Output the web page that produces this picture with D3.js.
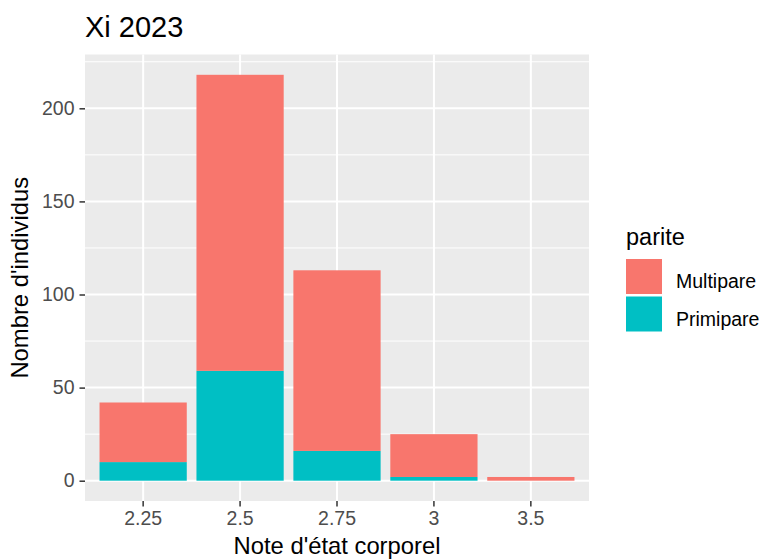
<!DOCTYPE html>
<html>
<head>
<meta charset="utf-8">
<script src="https://cdn.jsdelivr.net/npm/d3@7"></script>
<style>
  html, body { margin: 0; padding: 0; background: #ffffff; }
  svg { display: block; font-family: "Liberation Sans", Arial, sans-serif; }
</style>
</head>
<body>
<svg id="chart" width="765" height="560"></svg>
<script>
const categories = ["2.25", "2.5", "2.75", "3", "3.5"];
const seriesNames = ["Multipare", "Primipare"];
const multipare = [32, 159, 97, 23, 2];
const primipare = [10, 59, 16, 2, 0];
const yTicks = [0, 50, 100, 150, 200];
const yMinorTicks = [25, 75, 125, 175, 225];
const colors = ["#F8766D", "#00BFC4"];
const titleText = "Xi 2023";
const xTitle = "Note d'état corporel";
const yTitle = "Nombre d'individus";
const legendTitle = "parite";

const rows = categories.map((c, i) => ({ cat: c, Multipare: multipare[i], Primipare: primipare[i] }));
// ggplot stacks first level on top: Primipare at bottom, Multipare above
const stack = d3.stack().keys(["Primipare", "Multipare"]);
const stacked = stack(rows);

const svg = d3.select("#chart");
const panel = { left: 85, right: 589, top: 54.5, bottom: 501 };

const maxTotal = d3.max(rows, d => d.Multipare + d.Primipare);
const y = d3.scaleLinear()
  .domain([-0.05 * maxTotal, 1.05 * maxTotal])
  .range([panel.bottom, panel.top]);

const x = d3.scaleBand()
  .domain(categories)
  .range([panel.left, panel.right])
  .paddingInner(0.1)
  .paddingOuter(0.15);

// panel background
svg.append("rect")
  .attr("x", panel.left).attr("y", panel.top)
  .attr("width", panel.right - panel.left).attr("height", panel.bottom - panel.top)
  .attr("fill", "#EBEBEB");

// minor grid
svg.append("g").selectAll("line").data(yMinorTicks.filter(v => y(v) >= panel.top)).join("line")
  .attr("x1", panel.left).attr("x2", panel.right)
  .attr("y1", d => y(d)).attr("y2", d => y(d))
  .attr("stroke", "#ffffff").attr("stroke-width", 1);

// major grid
svg.append("g").selectAll("line").data(yTicks).join("line")
  .attr("x1", panel.left).attr("x2", panel.right)
  .attr("y1", d => y(d)).attr("y2", d => y(d))
  .attr("stroke", "#ffffff").attr("stroke-width", 2);
svg.append("g").selectAll("line").data(categories).join("line")
  .attr("x1", d => x(d) + x.bandwidth() / 2).attr("x2", d => x(d) + x.bandwidth() / 2)
  .attr("y1", panel.top).attr("y2", panel.bottom)
  .attr("stroke", "#ffffff").attr("stroke-width", 2);

// bars
const colorOf = { Multipare: colors[0], Primipare: colors[1] };
stacked.forEach(layer => {
  svg.append("g").selectAll("rect").data(layer).join("rect")
    .attr("x", d => x(d.data.cat))
    .attr("width", x.bandwidth())
    .attr("y", d => y(d[1]))
    .attr("height", d => Math.max(0, y(d[0]) - y(d[1])))
    .attr("fill", colorOf[layer.key]);
});

// y axis
const yAxis = d3.axisLeft(y).tickValues(yTicks).tickSize(5.5).tickPadding(5);
const gy = svg.append("g").attr("transform", `translate(${panel.left},0)`).call(yAxis);
gy.select(".domain").remove();
gy.selectAll(".tick line").attr("stroke", "#333333").attr("stroke-width", 1.5);
gy.selectAll(".tick text").attr("fill", "#4D4D4D").style("font-size", "19.5px")
  .attr("font-family", "Liberation Sans, Arial, sans-serif");

// x axis
const xAxis = d3.axisBottom(x).tickSize(5.5).tickPadding(5);
const gx = svg.append("g").attr("transform", `translate(0,${panel.bottom})`).call(xAxis);
gx.select(".domain").remove();
gx.selectAll(".tick line").attr("stroke", "#333333").attr("stroke-width", 1.5);
gx.selectAll(".tick text").attr("fill", "#4D4D4D").style("font-size", "19.5px")
  .attr("font-family", "Liberation Sans, Arial, sans-serif");

// titles
svg.append("text").attr("x", panel.left).attr("y", 37)
  .attr("fill", "#000").style("font-size", "29px").text(titleText);
svg.append("text").attr("x", (panel.left + panel.right) / 2).attr("y", 554)
  .attr("text-anchor", "middle").attr("fill", "#000").style("font-size", "23.8px").text(xTitle);
svg.append("text")
  .attr("transform", `translate(28,${(panel.top + panel.bottom) / 2}) rotate(-90)`)
  .attr("text-anchor", "middle").attr("fill", "#000").style("font-size", "23.8px").text(yTitle);

// legend
const lg = svg.append("g");
lg.append("text").attr("x", 626).attr("y", 245).attr("fill", "#000")
  .style("font-size", "23.5px").text(legendTitle);
seriesNames.forEach((name, i) => {
  const ky = 259 + i * 37.5;
  lg.append("rect").attr("x", 626).attr("y", ky).attr("width", 36).attr("height", 35)
    .attr("fill", colors[i]);
  lg.append("text").attr("x", 676).attr("y", ky + 29)
    .attr("fill", "#000").style("font-size", "19.5px").text(name);
});
</script>
</body>
</html>
